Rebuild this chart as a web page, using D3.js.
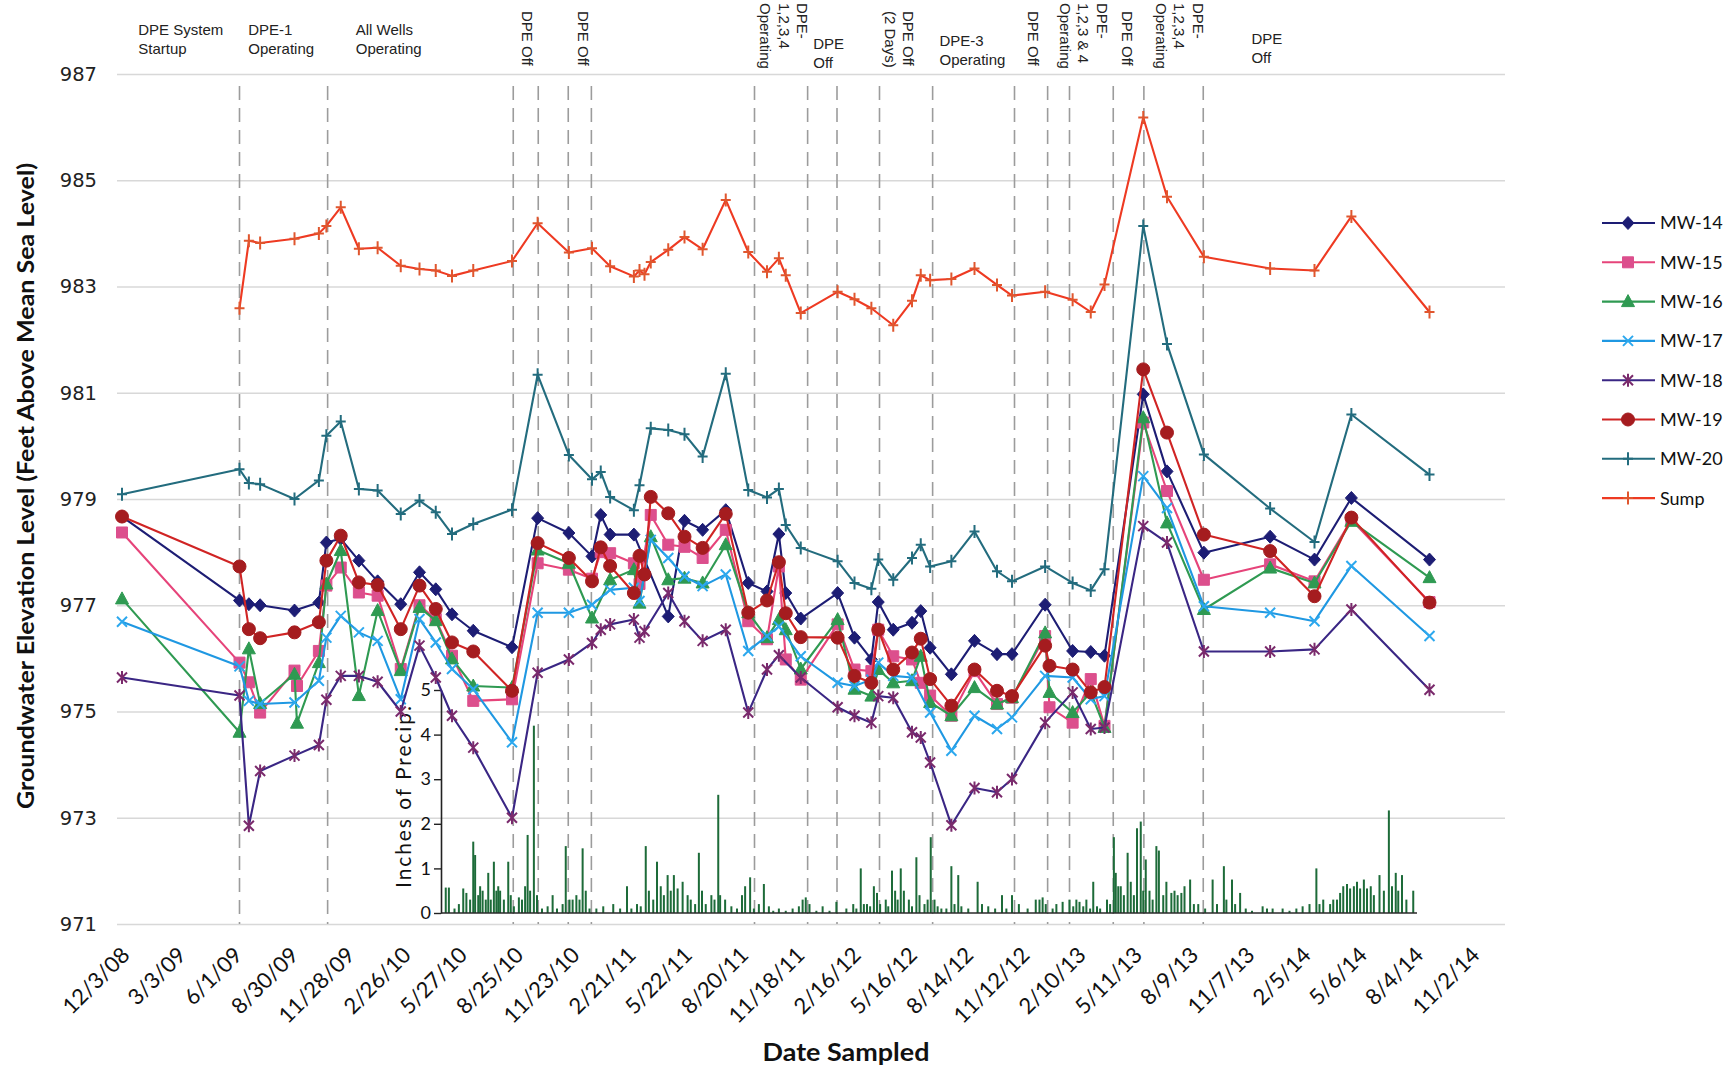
<!DOCTYPE html>
<html><head><meta charset="utf-8">
<script src="https://cdn.jsdelivr.net/npm/d3@7"></script>
<style>html,body{margin:0;padding:0;background:#fff}svg{display:block}</style>
</head><body>
<svg id="chart" width="1729" height="1067"></svg>
<script>
// ---------------- DATA ----------------
const sampleDates = ["2008-12-03","2009-06-09","2009-06-24","2009-07-12","2009-09-05","2009-09-09","2009-10-14","2009-10-26","2009-11-18","2009-12-17",
"2010-01-16","2010-02-22","2010-03-24","2010-04-19","2010-05-15","2010-06-18","2010-08-19","2010-09-29","2010-11-18","2010-12-25",
"2011-01-08","2011-01-23","2011-03-02","2011-03-11","2011-03-19","2011-03-29","2011-04-26","2011-05-22","2011-06-20","2011-07-27",
"2011-09-01","2011-10-01","2011-10-20","2011-10-31","2011-11-24","2012-01-22","2012-02-18","2012-03-16","2012-03-27","2012-04-20",
"2012-05-20","2012-06-03","2012-06-18","2012-07-22","2012-08-28","2012-10-03","2012-10-27","2012-12-19","2012-12-26","2013-02-01",
"2013-03-02","2013-03-24","2013-05-25","2013-07-02","2013-08-30","2013-12-14","2014-02-23","2014-04-23","2014-08-26"];

const mw14 = [978.67,977.09,977.02,977.00,976.90,null,977.05,978.18,978.25,977.84,
977.45,977.02,977.62,977.30,976.83,976.52,976.21,978.64,978.36,977.92,
978.70,978.33,978.33,null,null,null,976.79,978.59,978.42,978.79,
977.42,977.26,978.34,977.23,976.75,977.23,976.39,975.98,977.06,976.54,
976.67,976.89,976.20,975.70,976.33,976.08,976.08,977.01,null,976.14,
976.12,976.05,980.97,979.52,977.99,978.29,977.86,979.02,977.86];
const mw15 = [978.37,975.92,975.55,974.98,975.77,975.48,976.14,977.37,977.71,977.24,
977.18,975.80,977.00,976.74,976.05,975.20,975.23,977.79,977.67,977.50,
978.00,977.98,977.79,977.40,null,978.70,978.14,978.10,977.89,978.42,
976.70,976.36,977.73,975.98,975.60,976.64,975.79,975.76,976.54,976.04,
975.98,975.54,975.30,974.92,975.76,975.14,975.26,976.42,975.08,974.79,
975.61,974.73,980.44,979.15,977.48,977.77,977.45,978.61,977.06];
const mw16 = [977.12,974.61,976.18,975.15,975.70,974.78,975.92,977.40,978.03,975.30,
976.90,975.77,976.96,976.71,975.99,975.48,975.45,978.04,977.79,976.76,
null,977.48,977.67,977.04,null,978.29,977.48,977.51,977.42,978.14,
976.86,976.39,976.73,976.54,975.80,976.73,975.42,975.29,975.79,975.54,
975.58,976.04,975.17,974.92,975.45,975.14,975.26,976.48,975.36,974.98,
975.36,974.70,980.53,978.55,976.92,977.70,977.42,978.58,977.52];
const mw17 = [976.69,975.85,975.20,975.14,975.17,null,975.58,976.39,976.80,976.49,
976.33,975.23,976.74,976.30,975.80,975.42,974.42,976.86,976.86,977.01,
null,977.29,977.33,977.08,null,978.23,977.89,977.54,977.36,977.58,
976.14,976.42,976.60,null,976.04,975.54,975.48,975.60,975.92,975.67,
975.64,null,974.98,974.26,974.92,974.67,974.89,975.67,null,975.64,
975.23,975.29,979.43,978.83,976.98,976.86,976.70,977.74,976.42];
const mw18 = [975.64,975.30,972.85,973.88,974.17,null,974.37,975.22,975.67,975.67,
975.56,975.00,976.24,975.64,974.92,974.32,973.00,975.73,975.98,976.29,
976.54,976.64,976.73,976.39,976.51,null,977.23,976.70,976.33,976.54,
974.98,975.79,976.06,null,975.64,975.08,974.92,974.79,975.29,975.26,
974.61,974.51,974.04,972.86,973.56,973.48,973.73,974.79,null,975.36,
974.67,974.70,978.49,978.18,976.13,976.13,976.17,976.92,975.41];
const mw19 = [978.67,977.73,976.55,976.38,976.49,null,976.68,977.84,978.31,977.43,
977.38,976.55,977.37,976.93,976.30,976.13,975.39,978.17,977.89,977.45,
978.09,977.74,977.23,977.93,977.58,979.04,978.73,978.29,978.08,978.72,
976.86,977.09,977.81,976.85,976.40,976.39,975.67,975.54,976.54,975.79,
976.11,976.37,975.61,975.11,975.79,975.39,975.29,976.24,975.86,975.79,
975.36,975.46,981.44,980.25,978.33,978.02,977.17,978.65,977.05];
const mw20 = [979.09,979.56,979.30,979.28,979.00,null,979.35,980.19,980.46,979.19,
979.16,978.72,978.97,978.75,978.34,978.53,978.80,981.34,979.83,979.37,
979.51,979.04,978.79,979.26,null,980.33,980.30,980.22,979.80,981.36,
979.17,979.03,979.19,978.51,978.08,977.83,977.42,977.31,977.86,977.48,
977.89,978.14,977.73,977.83,978.39,977.64,977.45,977.73,null,977.42,
977.28,977.68,984.14,981.92,979.84,978.82,978.19,980.59,979.46];
const sump = [null,982.59,983.86,983.82,983.90,null,984.00,984.14,984.49,983.71,
983.73,983.39,983.33,983.30,983.20,983.30,983.48,984.19,983.64,983.72,
null,983.38,983.19,983.30,983.23,983.46,983.69,983.93,983.70,984.63,
983.65,983.28,983.53,983.21,982.50,982.90,982.76,982.59,null,982.27,
982.73,983.21,983.12,983.14,983.34,983.03,982.83,982.90,null,982.75,
982.52,983.04,986.18,984.69,983.56,983.34,983.30,984.32,982.52];

const precipDates = ["2010-05-05","2010-05-10","2010-05-19","2010-05-26","2010-06-02","2010-06-07","2010-06-13","2010-06-18","2010-06-21","2010-06-26",
"2010-06-29","2010-07-03","2010-07-08","2010-07-12","2010-07-16","2010-07-21","2010-07-25","2010-07-28","2010-07-31","2010-08-06",
"2010-08-13","2010-08-17","2010-08-22","2010-08-30","2010-09-04","2010-09-09","2010-09-13","2010-09-17","2010-09-23","2010-09-28",
"2010-10-06","2010-10-15","2010-10-23","2010-10-30","2010-11-08","2010-11-13","2010-11-19","2010-11-24","2010-11-30","2010-12-05",
"2010-12-10","2010-12-15","2010-12-21","2011-01-01","2011-01-12","2011-01-28","2011-02-08","2011-02-19","2011-02-26","2011-03-07",
"2011-03-13","2011-03-21","2011-03-26","2011-04-02","2011-04-08","2011-04-14","2011-04-19","2011-04-25","2011-04-30","2011-05-05",
"2011-05-11","2011-05-19","2011-05-27","2011-06-01","2011-06-08","2011-06-14","2011-06-19","2011-06-25","2011-07-04","2011-07-09",
"2011-07-15","2011-07-18","2011-07-26","2011-08-05","2011-08-14","2011-08-22","2011-08-27","2011-09-04","2011-09-10","2011-09-18",
"2011-09-26","2011-10-04","2011-10-11","2011-10-20","2011-10-31","2011-11-11","2011-11-21","2011-11-27","2011-12-02","2011-12-08",
"2011-12-19","2011-12-29","2012-01-09","2012-01-20","2012-02-05","2012-02-16","2012-02-21","2012-02-28","2012-03-04","2012-03-09",
"2012-03-14","2012-03-20","2012-03-25","2012-03-30","2012-04-08","2012-04-12","2012-04-18","2012-04-23","2012-04-27","2012-05-02",
"2012-05-07","2012-05-15","2012-05-20","2012-05-27","2012-06-01","2012-06-09","2012-06-14","2012-06-19","2012-06-25","2012-06-30",
"2012-07-06","2012-07-14","2012-07-22","2012-07-27","2012-08-02","2012-08-07","2012-08-18","2012-09-02","2012-09-09","2012-09-19",
"2012-09-30","2012-10-11","2012-10-18","2012-10-27","2012-11-07","2012-11-21","2012-12-04","2012-12-10","2012-12-15","2012-12-20",
"2012-12-31","2013-01-06","2013-01-16","2013-01-27","2013-02-02","2013-02-07","2013-02-12","2013-02-18","2013-02-23","2013-03-01",
"2013-03-06","2013-03-12","2013-03-17","2013-03-28","2013-04-02","2013-04-08","2013-04-11","2013-04-15","2013-04-19","2013-04-24",
"2013-04-30","2013-05-05","2013-05-10","2013-05-15","2013-05-21","2013-05-25","2013-05-29","2013-06-04","2013-06-09","2013-06-15",
"2013-06-19","2013-06-26","2013-07-01","2013-07-09","2013-07-14","2013-07-19","2013-07-25","2013-07-30","2013-08-08","2013-08-14",
"2013-08-21","2013-09-01","2013-09-13","2013-09-20","2013-10-01","2013-10-05","2013-10-14","2013-10-19","2013-10-27","2013-11-05",
"2013-11-15","2013-12-02","2013-12-09","2013-12-18","2014-01-03","2014-01-14","2014-01-25","2014-02-04","2014-02-15","2014-02-26",
"2014-03-03","2014-03-09","2014-03-20","2014-03-25","2014-03-31","2014-04-05","2014-04-10","2014-04-16","2014-04-21","2014-04-27",
"2014-05-02","2014-05-07","2014-05-13","2014-05-18","2014-05-24","2014-05-29","2014-06-07","2014-06-14","2014-06-22","2014-06-27",
"2014-07-03","2014-07-07","2014-07-13","2014-07-20","2014-07-31"];
const precipInches = [0.57,0.57,0.1,0.2,0.55,0.45,0.3,1.6,1.3,0.4,
0.6,0.5,0.3,0.9,0.3,1.15,0.5,0.6,0.5,0.3,
1.15,0.4,0.15,0.35,0.3,0.6,1.75,0.5,4.2,0.4,
0.1,0.15,0.4,0.1,0.2,1.5,0.3,0.3,0.4,0.3,
1.45,0.5,0.1,0.1,0.15,0.2,0.1,0.6,0.1,0.2,
0.15,1.5,0.5,0.3,1.15,0.6,0.4,0.85,0.5,0.85,
0.55,0.7,0.4,0.3,0.2,1.35,0.5,0.2,0.4,0.3,
2.65,0.4,0.3,0.15,0.1,0.4,0.6,0.8,0.1,0.2,
0.65,0.15,0.05,0.1,0.05,0.1,0.15,0.3,0.35,0.2,
0.05,0.15,0.05,0.25,0.1,0.2,0.1,1.0,0.2,0.2,
0.15,0.6,0.45,0.2,0.3,0.15,0.95,0.5,0.3,1.0,
0.5,0.3,0.15,1.25,0.4,0.2,0.3,1.7,0.3,0.15,
0.1,0.1,1.05,0.2,0.85,0.15,0.1,0.7,0.2,0.15,
0.1,0.4,0.1,0.4,0.2,0.1,0.3,0.3,0.35,0.2,
0.1,0.2,0.25,0.3,0.15,0.3,0.25,0.15,0.3,0.1,
0.7,0.15,0.1,0.3,0.2,1.7,0.9,0.6,0.6,0.4,
1.35,0.7,0.4,1.9,2.05,0.5,1.2,0.5,0.3,1.5,
1.4,0.4,0.7,0.45,0.5,0.4,0.45,0.6,0.75,0.2,
0.2,0.1,0.75,0.2,1.05,0.3,0.75,0.2,0.45,0.1,
0.05,0.15,0.1,0.1,0.1,0.05,0.1,0.15,0.2,1.0,
0.2,0.3,0.2,0.3,0.3,0.45,0.6,0.65,0.55,0.6,
0.7,0.55,0.75,0.55,0.6,0.4,0.85,0.5,2.3,0.6,
0.9,0.5,0.85,0.3,0.5];

const xTickLabels = ["12/3/08","3/3/09","6/1/09","8/30/09","11/28/09","2/26/10","5/27/10","8/25/10","11/23/10","2/21/11","5/22/11","8/20/11","11/18/11","2/16/12","5/16/12","8/14/12","11/12/12","2/10/13","5/11/13","8/9/13","11/7/13","2/5/14","5/6/14","8/4/14","11/2/14"];
const yTicks = [971,973,975,977,979,981,983,985,987];
const precipTicks = [0,1,2,3,4,5];
const eventDates = ["2009-06-09","2009-10-28","2010-08-21","2010-09-30","2010-11-17","2010-12-24","2011-09-11","2011-12-05","2012-01-21","2012-03-29","2012-06-22","2012-10-31","2012-12-23","2013-01-27","2013-04-07","2013-05-26","2013-08-29"];
const hNoteDates = ["2008-12-29","2009-06-23","2009-12-12","2011-12-14","2012-07-03","2013-11-14"];
const hNoteText = [["DPE System","Startup"],["DPE-1","Operating"],["All Wells","Operating"],["DPE","Off"],["DPE-3","Operating"],["DPE","Off"]];
const vNoteDates = ["2010-09-12","2010-12-12","2011-11-27","2012-05-15","2012-11-30","2013-03-20","2013-04-29","2013-08-21"];
const vNoteText = [["DPE Off"],["DPE Off"],["DPE-","1,2,3,4","Operating"],["DPE Off","(2 Days)"],["DPE Off"],["DPE-","1,2,3 & 4","Operating"],["DPE Off"],["DPE-","1,2,3,4","Operating"]];
const seriesNames = ["MW-14","MW-15","MW-16","MW-17","MW-18","MW-19","MW-20","Sump"];
const yTitle = "Groundwater Elevation Level (Feet Above Mean Sea Level)";
const xTitle = "Date Sampled";
const precipTitle = "Inches of Precip.";

// ---------------- CHART ----------------
const parse = d3.utcParse("%Y-%m-%d");
const parseTick = d3.utcParse("%m/%d/%y");
const svg = d3.select("#chart");
svg.append("rect").attr("width",1729).attr("height",1067).attr("fill","#fff");

const x = d3.scaleUtc().domain([parse("2008-12-03"), parse("2014-11-02")]).range([122, 1472]);
const y = d3.scaleLinear().domain([971, 987]).range([924, 74]);
const yP = d3.scaleLinear().domain([0, 5]).range([913, 690]);
const gridLeft = 117, gridRight = 1505;

// grid + y labels
const gy = svg.append("g").attr("transform", `translate(${gridLeft},0)`)
  .call(d3.axisLeft(y).tickValues(yTicks).tickSize(-(gridRight - gridLeft)).tickPadding(20).tickFormat(d3.format("d")));
gy.select(".domain").remove();
gy.selectAll(".tick line").attr("stroke", "#d8d8d8").attr("stroke-width", 1.4);
gy.selectAll(".tick text").attr("font-family", "DejaVu Sans").attr("font-size", 19.5).attr("fill", "#222");

// event dashed lines
svg.append("g").selectAll("line").data(eventDates).join("line")
  .attr("x1", d => x(parse(d))).attr("x2", d => x(parse(d)))
  .attr("y1", 86).attr("y2", 924)
  .attr("stroke", "#9c9c9c").attr("stroke-width", 1.6).attr("stroke-dasharray", "14,8");

// x tick labels
const gx = svg.append("g").attr("transform", "translate(0,924)")
  .call(d3.axisBottom(x).tickValues(xTickLabels.map(s => parseTick(s))).tickSize(0).tickFormat((d, i) => xTickLabels[i]));
gx.select(".domain").remove();
gx.selectAll(".tick text")
  .attr("y", 0).attr("dy", "0.35em").attr("text-anchor", "end")
  .attr("transform", "translate(3,27) rotate(-45)")
  .attr("font-family", "Lato").attr("font-size", 22).attr("fill", "#111");

// precipitation inset
const precip = precipDates.map((d, i) => ({date: parse(d), v: precipInches[i]})).filter(d => d.v != null);
svg.append("g").selectAll("rect").data(precip).join("rect")
  .attr("x", d => x(d.date) - 1).attr("width", 2)
  .attr("y", d => yP(d.v)).attr("height", d => yP(0) - yP(d.v))
  .attr("fill", "#1d6b39");
svg.append("line").attr("x1", 441).attr("x2", 1417).attr("y1", yP(0)).attr("y2", yP(0))
  .attr("stroke", "#2a2a2a").attr("stroke-width", 1.6);
const gp = svg.append("g").attr("transform", "translate(441,0)")
  .call(d3.axisLeft(yP).tickValues(precipTicks).tickSize(7).tickSizeOuter(0).tickPadding(3).tickFormat(d3.format("d")));
gp.select(".domain").attr("stroke", "#222").attr("stroke-width", 1.6);
gp.selectAll(".tick line").attr("stroke", "#222").attr("stroke-width", 1.4);
gp.selectAll(".tick text").attr("font-family", "Lato").attr("font-size", 18).attr("fill", "#111");
svg.append("text").attr("transform", "translate(402,797) rotate(-90)")
  .attr("text-anchor", "middle").attr("dominant-baseline", "central")
  .attr("font-family", "Lato").attr("font-size", 21).attr("fill", "#111")
  .attr("textLength", 182).attr("lengthAdjust", "spacing")
  .text(precipTitle);

// series
const markerPaths = {
  diamond: "M0,-6.5L6,0L0,6.5L-6,0Z",
  square: "M-5.5,-5.5h11v11h-11Z",
  triangle: "M0,-7L6.5,5L-6.5,5Z",
  circle: "M6.5,0A6.5,6.5 0 1,1 -6.5,0A6.5,6.5 0 1,1 6.5,0Z",
  cross: "M-5,-5L5,5M-5,5L5,-5",
  star: "M-5,-5L5,5M-5,5L5,-5M0,-6.5L0,6.5",
  plus: "M-5,0L5,0M0,-6.5L0,6.5"
};
const seriesStyle = [
  {line: "#1d1d74", mark: "#1d1d74", shape: "diamond", filled: true},
  {line: "#e6447a", mark: "#dc4f8d", shape: "square", filled: true},
  {line: "#2f9a52", mark: "#2f9a52", shape: "triangle", filled: true},
  {line: "#1f98e2", mark: "#2ca8ee", shape: "cross", filled: false},
  {line: "#3a2684", mark: "#7a2a6c", shape: "star", filled: false},
  {line: "#d02424", mark: "#a51c1f", shape: "circle", filled: true},
  {line: "#236c7e", mark: "#236c7e", shape: "plus", filled: false},
  {line: "#ee3a22", mark: "#e0562e", shape: "plus", filled: false}
];
const seriesValues = [mw14, mw15, mw16, mw17, mw18, mw19, mw20, sump];
const lineGen = d3.line().x(d => x(d.date)).y(d => y(d.v));

function drawMarker(sel, st) {
  sel.append("path").attr("d", markerPaths[st.shape])
    .attr("fill", st.filled ? st.mark : "none")
    .attr("stroke", st.mark)
    .attr("stroke-width", st.filled ? 1 : 2);
}

seriesValues.forEach((vals, si) => {
  const st = seriesStyle[si];
  const pts = sampleDates.map((d, i) => ({date: parse(d), v: vals[i]})).filter(d => d.v != null);
  const g = svg.append("g").attr("class", "series");
  g.append("path").datum(pts).attr("d", lineGen)
    .attr("fill", "none").attr("stroke", st.line).attr("stroke-width", 2.1).attr("stroke-linejoin", "round");
  g.selectAll("g.m").data(pts).join("g").attr("class", "m")
    .attr("transform", d => `translate(${x(d.date)},${y(d.v)})`)
    .each(function () { drawMarker(d3.select(this), st); });
});

// legend
const lg = svg.append("g");
seriesNames.forEach((name, i) => {
  const st = seriesStyle[i];
  const yy = 223 + i * 39.3;
  lg.append("line").attr("x1", 1602).attr("x2", 1655).attr("y1", yy).attr("y2", yy)
    .attr("stroke", st.line).attr("stroke-width", 2.1);
  drawMarker(lg.append("g").attr("transform", `translate(1628,${yy})`), st);
  lg.append("text").attr("x", 1660).attr("y", yy).attr("dy", "0.36em")
    .attr("font-family", "Lato").attr("font-size", 18).attr("fill", "#111").text(name);
});

// annotations (horizontal)
const hNoteY = [35, 35, 35, 49, 46, 44];
hNoteText.forEach((lines, i) => {
  const t = svg.append("text").attr("font-family", "Liberation Sans, Arial, sans-serif")
    .attr("font-size", 15).attr("fill", "#222");
  lines.forEach((ln, j) => {
    t.append("tspan").attr("x", x(parse(hNoteDates[i]))).attr("y", hNoteY[i] + j * 18.5).text(ln);
  });
});
// annotations (vertical)
vNoteText.forEach((lines, i) => {
  const cx = x(parse(vNoteDates[i]));
  const top = lines.length === 3 ? 3 : 11;
  lines.forEach((ln, j) => {
    svg.append("text")
      .attr("transform", `translate(${cx - j * 18.5},${top}) rotate(90)`)
      .attr("dominant-baseline", "central")
      .attr("font-family", "Liberation Sans, Arial, sans-serif")
      .attr("font-size", 15).attr("fill", "#222").text(ln);
  });
});

// axis titles
svg.append("text").attr("transform", "translate(25,486) rotate(-90)")
  .attr("text-anchor", "middle").attr("dominant-baseline", "central")
  .attr("font-family", "Lato").attr("font-weight", "bold").attr("font-size", 22).attr("fill", "#111")
  .attr("textLength", 646).attr("lengthAdjust", "spacingAndGlyphs").text(yTitle);
svg.append("text").attr("x", 846).attr("y", 1051)
  .attr("text-anchor", "middle").attr("dominant-baseline", "central")
  .attr("font-family", "Lato").attr("font-weight", "bold").attr("font-size", 25).attr("fill", "#111")
  .attr("textLength", 167).attr("lengthAdjust", "spacingAndGlyphs").text(xTitle);
</script>
</body></html>
